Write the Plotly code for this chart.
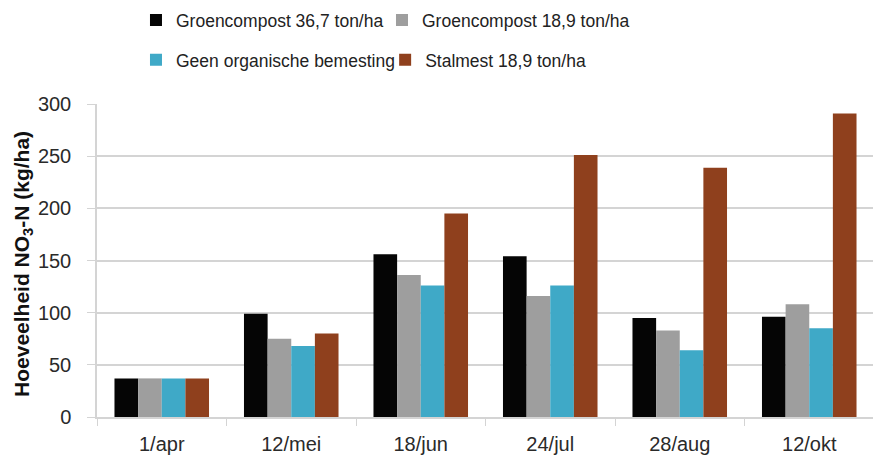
import plotly.graph_objects as go

categories = ["1/apr", "12/mei", "18/jun", "24/jul", "28/aug", "12/okt"]
groen_367 = [37, 99, 156, 154, 95, 96]
groen_189 = [37, 75, 136, 116, 83, 108]
geen_org = [37, 68, 126, 126, 64, 85]
stalmest = [37, 80, 195, 251, 239, 291]

series = [
    ("Groencompost 36,7 ton/ha", groen_367, "#050505", "legend", 0.1466, 0.973),
    ("Groencompost 18,9 ton/ha", groen_189, "#9E9E9E", "legend2", 0.4284, 0.973),
    ("Geen organische bemesting", geen_org, "#3FA9C7", "legend3", 0.1466, 0.885),
    ("Stalmest 18,9 ton/ha", stalmest, "#8F401D", "legend4", 0.4320, 0.885),
]

font_family = "Liberation Sans, Arial, sans-serif"

fig = go.Figure()
legends = {}
for name, vals, color, lg, lx, ly in series:
    fig.add_trace(go.Bar(
        name=name, x=categories, y=vals, legend=lg,
        marker=dict(color=color, line=dict(width=0)),
    ))
    legends[lg] = dict(
        x=lx, y=ly, xref="container", yref="container",
        orientation="h", xanchor="left", yanchor="middle",
        font=dict(family=font_family, size=17.5, color="#222222"),
        bgcolor="rgba(0,0,0,0)", itemwidth=30,
    )

# page body has an 8px margin, so the figure is drawn 8px smaller
fig.update_layout(
    width=873, height=451,
    margin=dict(l=89, r=7, t=96, b=42),
    paper_bgcolor="white", plot_bgcolor="white",
    barmode="group", bargap=0.27, bargroupgap=0,
    font=dict(family=font_family, size=17, color="#262626"),
    showlegend=True,
    **legends,
)

fig.add_annotation(
    text="<b>Hoeveelheid NO<sub>3</sub>-N (kg/ha)</b>",
    xref="paper", yref="paper", x=-0.0952, y=0.489,
    xanchor="center", yanchor="middle", textangle=-90, showarrow=False,
    font=dict(family=font_family, size=21, color="#111111"),
)

fig.update_yaxes(
    range=[0, 300], dtick=50, automargin=False,
    showgrid=True, gridcolor="#D4D4D4", gridwidth=1.5,
    showline=True, linecolor="#D4D4D4", linewidth=1.5,
    ticks="outside", ticklen=8, tickcolor="#D4D4D4",
    ticklabelstandoff=12,
    tickfont=dict(family=font_family, size=20, color="#2A2A2A"),
    zeroline=False,
)
fig.update_xaxes(
    automargin=False,
    showline=True, linecolor="#D4D4D4", linewidth=1.5,
    ticks="outside", tickson="boundaries", ticklen=7, tickcolor="#D4D4D4",
    ticklabelstandoff=8,
    tickfont=dict(family=font_family, size=20, color="#2A2A2A"),
)

fig.write_html("out.html")
